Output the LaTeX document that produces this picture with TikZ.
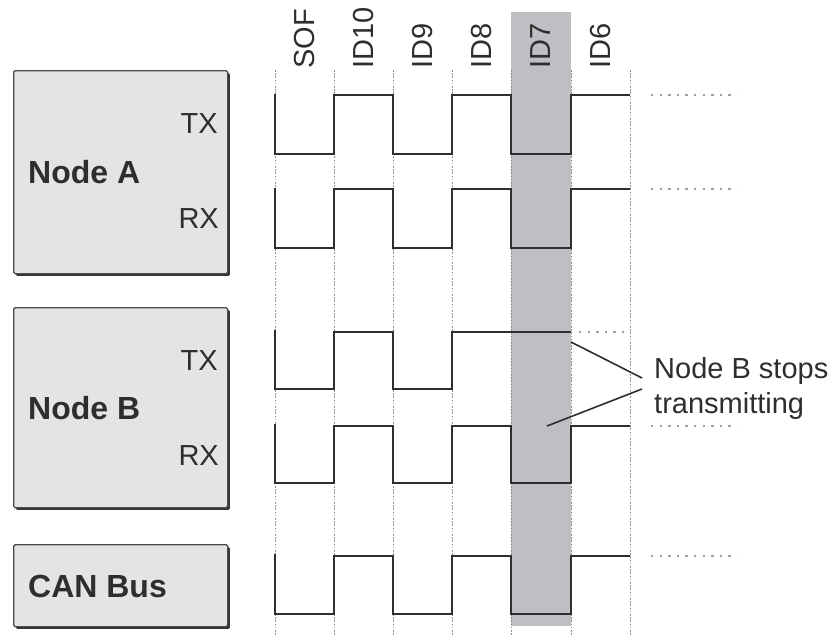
\documentclass[tikz,border=0pt]{standalone}
\usepackage{fontspec}
\setmainfont{Liberation Sans}
\usetikzlibrary{shadows}
\definecolor{ink}{HTML}{2E2E2E}
\definecolor{boxfill}{HTML}{E3E4E6}
\definecolor{bandgray}{HTML}{BDBFC2}
\definecolor{gridgray}{HTML}{8C8C8C}
\definecolor{dotgray}{HTML}{A0A0A0}
\begin{document}
\begin{tikzpicture}[x=1pt,y=-1pt,
  wave/.style={draw=ink, line width=2.8pt, line join=miter},
  gridline/.style={draw=gridgray, line width=0.9pt, dash pattern=on 1.6pt off 1.6pt},
  cont/.style={draw=dotgray, line width=2.3pt, dash pattern=on 2.3pt off 6.3pt},
  boxstyle/.style={draw=black!70, line width=1.4pt, fill=boxfill, rounded corners=1.5pt,
    anchor=north west, inner sep=0pt,
    drop shadow={shadow xshift=2.2pt, shadow yshift=-2.2pt, fill=black!80, opacity=1}},
  lbl/.style={font=\fontsize{29}{35}\selectfont, text=ink, inner sep=0pt},
  blbl/.style={font=\fontsize{32}{38}\selectfont\bfseries, text=ink, inner sep=0pt, anchor=west},
  collbl/.style={lbl, rotate=90, anchor=west},
  notel/.style={draw=ink, line width=1.6pt}
]
\useasboundingbox (0,0) rectangle (830,635);

% highlighted bit ID7
\fill[bandgray] (511,12) rectangle (571,626);

% bit boundaries
\foreach \x in {275,334,393,452,511,571,630}
  \draw[gridline] (\x,70) -- (\x,635);

% column labels
\node[collbl] (cSOF)  at (304.5,69) {SOF};
\node[collbl] (cID10) at (363.5,69) {ID10};
\node[collbl] (cID9)  at (422.5,69) {ID9};
\node[collbl] (cID8)  at (481.5,69) {ID8};
\node[collbl] (cID7)  at (541,69)   {ID7};
\node[collbl] (cID6)  at (600.5,69) {ID6};

% boxes
\node[boxstyle, minimum width=214, minimum height=203] (boxA) at (13,70) {};
\node[boxstyle, minimum width=214, minimum height=200] (boxB) at (13,307) {};
\node[boxstyle, minimum width=214, minimum height=82]  (boxC) at (13,544) {};

\node[blbl] (nA) at (28,172) {Node A};
\node[lbl, anchor=east] (txA) at (218,124) {TX};
\node[lbl, anchor=east] (rxA) at (219,219) {RX};

\node[blbl] (nB) at (28,408) {Node B};
\node[lbl, anchor=east] (txB) at (218,361) {TX};
\node[lbl, anchor=east] (rxB) at (219,456) {RX};

\node[blbl] (nC) at (28,586) {CAN Bus};

% waveforms
\draw[wave] (275,94) |- (334,154) |- (393,95) |- (452,154) |- (511,95) |- (571,154) |- (630,95);
\draw[wave] (275,188) |- (334,248) |- (393,189) |- (452,248) |- (511,189) |- (571,248) |- (630,189);
\draw[wave] (275,330) |- (334,389) |- (393,332) |- (452,389) |- (571,332);
\draw[wave] (275,424) |- (334,483) |- (393,426) |- (452,483) |- (511,426) |- (571,483) |- (630,426);
\draw[wave] (275,554) |- (334,614) |- (393,556) |- (452,614) |- (511,556) |- (571,614) |- (630,556);

% continuation dots
\draw[cont] (651,95) -- (737,95);
\draw[cont] (651,189) -- (737,189);
\draw[cont] (579,332) -- (628,332);
\draw[cont] (651,426) -- (737,426);
\draw[cont] (651,556) -- (737,556);

% annotation
\node[lbl, align=left, anchor=north west] (note) at (654,357) {Node B stops\\transmitting};
\coordinate (j1) at (642,378);
\coordinate (j2) at (642,389);
\coordinate (tip1) at (571,342);
\coordinate (tip2) at (547,426);
\draw[notel] (j1) -- (tip1);
\draw[notel] (j2) -- (tip2);
\end{tikzpicture}
\end{document}
